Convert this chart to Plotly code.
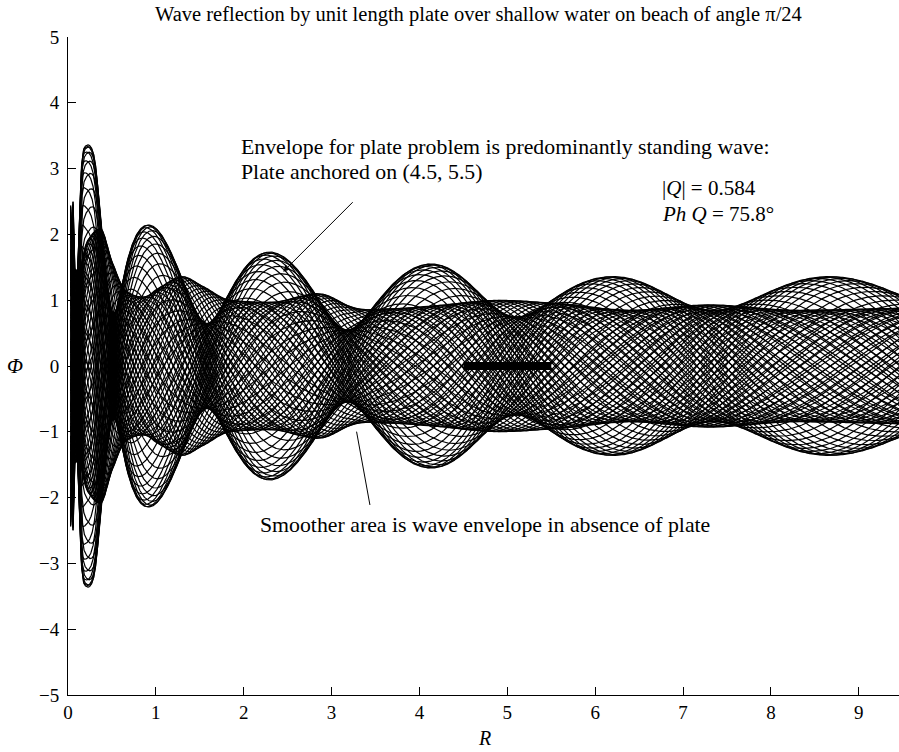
import numpy as np
import plotly.graph_objects as go

TITLE = "Wave reflection by unit length plate over shallow water on beach of angle π/24"
X_TICKS = [0, 1, 2, 3, 4, 5, 6, 7, 8, 9]
Y_TICKS = [-5, -4, -3, -2, -1, 0, 1, 2, 3, 4, 5]

# Plate problem: positions of envelope crests (phase = n*pi) and pinches (n+1/2)*pi
PLATE_PHASE_R = [0.03, 0.106, 0.18, 0.23, 0.28, 0.39, 0.52, 0.96, 1.58, 2.32, 3.18, 4.16, 5.12, 6.2, 7.35, 8.67, 9.46]
PLATE_PHASE_PI = [-0.75, -0.39, -0.06, 0.0, 0.06, 0.3, 0.5, 1.0, 1.5, 2.0, 2.5, 3.0, 3.5, 4.0, 4.5, 5.0, 5.28]
# Plate problem: crest heights of the envelope
PLATE_CREST_R = [0.03, 0.23, 0.96, 2.32, 4.16, 6.2, 8.67, 9.46]
PLATE_CREST = [3.36, 3.36, 2.13, 1.73, 1.55, 1.36, 1.36, 1.36]
# Plate problem: envelope height at the pinches
PLATE_PINCH_R = [0.03, 0.52, 1.58, 3.18, 5.12, 7.35, 9.46]
PLATE_PINCH = [0.8, 0.8, 0.65, 0.55, 0.75, 0.85, 0.85]
Q_ABS = 0.584
Q_PHASE_DEG = 75.8

# No plate: smoother envelope
NOPLATE_R = [0.03, 0.057, 0.07, 0.12, 0.22, 0.37, 0.5, 0.65, 0.85, 1.05, 1.3, 1.55, 1.85, 2.3, 2.85,
             3.35, 3.8, 4.2, 4.9, 5.6, 6.4, 7.3, 8.3, 9.46]
NOPLATE_AMP = [1.5, 2.5, 1.5, 1.45, 1.9, 2.09, 1.6, 1.15, 1.05, 1.2, 1.36, 1.2, 1.0, 0.97, 1.1,
               0.86, 0.88, 0.92, 1.0, 0.95, 0.85, 0.93, 0.85, 0.88]

PLATE_SPAN = [4.5, 5.5]
N_SNAPSHOTS = 48

FONT = "Liberation Serif, Times New Roman, Times, serif"


def pchip(xk, yk, x):
    xk = np.asarray(xk, float)
    yk = np.asarray(yk, float)
    x = np.clip(np.asarray(x, float), xk[0], xk[-1])
    h = np.diff(xk)
    d = np.diff(yk) / h
    n = len(xk)
    m = np.zeros(n)
    m[0] = d[0]
    m[-1] = d[-1]
    for i in range(1, n - 1):
        if d[i - 1] * d[i] <= 0:
            m[i] = 0.0
        else:
            w1 = 2 * h[i] + h[i - 1]
            w2 = h[i] + 2 * h[i - 1]
            m[i] = (w1 + w2) / (w1 / d[i - 1] + w2 / d[i])
    idx = np.clip(np.searchsorted(xk, x) - 1, 0, n - 2)
    t = (x - xk[idx]) / h[idx]
    h00 = 2 * t**3 - 3 * t**2 + 1
    h10 = t**3 - 2 * t**2 + t
    h01 = -2 * t**3 + 3 * t**2
    h11 = t**3 - t**2
    return h00 * yk[idx] + h10 * h[idx] * m[idx] + h01 * yk[idx + 1] + h11 * h[idx] * m[idx + 1]


R = np.unique(np.concatenate([np.linspace(0.03, 0.6, 800), np.linspace(0.6, 9.46, 2000)]))
s = np.sqrt(R)

theta = np.pi * pchip(np.sqrt(PLATE_PHASE_R), PLATE_PHASE_PI, s)
crest = pchip(np.sqrt(PLATE_CREST_R), PLATE_CREST, s)
pinch = pchip(np.sqrt(PLATE_PINCH_R), PLATE_PINCH, s)
a_in = 0.5 * (crest + pinch)
b_out = 0.5 * (crest - pinch)
A1 = a_in * np.exp(1j * theta) + b_out * np.exp(-1j * theta)
A0 = pchip(np.sqrt(NOPLATE_R), NOPLATE_AMP, s) * np.exp(1j * theta)


def family(A):
    xs, ys = [], []
    for k in range(N_SNAPSHOTS):
        a = 2 * np.pi * k / N_SNAPSHOTS
        ys.append(np.real(A * np.exp(-1j * a)))
        xs.append(R)
        ys.append([None])
        xs.append([None])
    return np.concatenate(xs), np.concatenate(ys)


fig = go.Figure()
for A in (A0, A1):
    xx, yy = family(A)
    fig.add_trace(go.Scatter(x=xx, y=yy, mode="lines", line=dict(color="black", width=1.2),
                             hoverinfo="skip", showlegend=False))

fig.add_trace(go.Scatter(x=PLATE_SPAN, y=[0, 0], mode="lines", line=dict(color="black", width=8),
                         showlegend=False, hoverinfo="skip"))

axis_common = dict(showline=True, linecolor="black", linewidth=1, ticks="inside", ticklen=8,
                   tickcolor="black", tickwidth=1, showgrid=False, zeroline=False, mirror=False,
                   tickfont=dict(family=FONT, size=19, color="black"))

fig.update_layout(
    width=899, height=752,
    margin=dict(l=68, r=0, t=37, b=57),
    plot_bgcolor="white", paper_bgcolor="white",
    showlegend=False,
    xaxis=dict(range=[0, 9.457], tickvals=X_TICKS, **axis_common),
    yaxis=dict(range=[-5, 5], tickvals=Y_TICKS, ticklabelstandoff=4, **axis_common),
    font=dict(family=FONT, size=19, color="black"),
)

txt = dict(family=FONT, size=21, color="black")
big = dict(family=FONT, size=21.8, color="black")
ann = [
    dict(text=TITLE, xref="paper", yref="paper", x=(478 - 68) / 831, y=1 + 22 / 658,
         xanchor="center", yanchor="middle", showarrow=False,
         font=dict(family=FONT, size=20.5, color="black")),
    dict(text="Envelope for plate problem is predominantly standing wave:", x=1.945, y=3.324,
         xanchor="left", yanchor="middle", showarrow=False, font=big),
    dict(text="Plate anchored on (4.5, 5.5)", x=1.945, y=2.953,
         xanchor="left", yanchor="middle", showarrow=False, font=big),
    dict(text="|<i>Q</i>| = %.3f" % Q_ABS, x=6.735, y=2.70,
         xanchor="left", yanchor="middle", showarrow=False, font=txt),
    dict(text="<i>Ph Q</i> = %.1f°" % Q_PHASE_DEG, x=6.735, y=2.305,
         xanchor="left", yanchor="middle", showarrow=False, font=txt),
    dict(text="Smoother area is wave envelope in absence of plate", x=2.16, y=-2.416,
         xanchor="left", yanchor="middle", showarrow=False, font=big),
    dict(text="", x=2.449, y=1.433, ax=71, ay=-71, showarrow=True, arrowhead=2,
         arrowsize=1.3, arrowwidth=1, arrowcolor="black"),
    dict(text="<i>Φ</i>", xref="paper", yref="paper", x=(15 - 68) / 831, y=0.5,
         xanchor="center", yanchor="middle", showarrow=False, font=txt),
    dict(text="<i>R</i>", xref="paper", yref="paper", x=(484.5 - 68) / 831, y=-(738 - 695) / 658,
         xanchor="center", yanchor="middle", showarrow=False,
         font=dict(family=FONT, size=20, color="black")),
]
fig.update_layout(annotations=ann)
fig.add_shape(type="line", x0=3.284, y0=-0.998, x1=3.436, y1=-2.112,
              line=dict(color="black", width=1))

fig.write_html("out.html")
